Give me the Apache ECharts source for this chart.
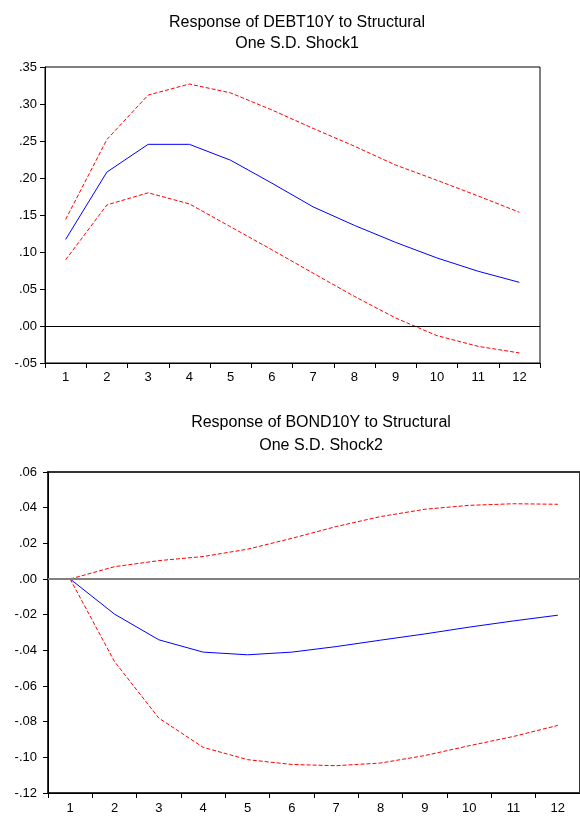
<!DOCTYPE html>
<html>
<head>
<meta charset="utf-8">
<script src="https://cdn.jsdelivr.net/npm/echarts@6/dist/echarts.min.js"></script>
<style>
  html,body{margin:0;padding:0;background:#fff;}
  #chart{width:580px;height:817px;}
</style>
</head>
<body>
<div id="chart"></div>
<script>
// periods on the x axis
const periods = ['1','2','3','4','5','6','7','8','9','10','11','12'];

// Response of DEBT10Y to Shock1
const debtResp  = [0.117, 0.208, 0.2455, 0.2455, 0.224, 0.193, 0.161, 0.136, 0.113, 0.092, 0.074, 0.059];
const debtUpper = [0.144, 0.252, 0.312, 0.327, 0.315, 0.292, 0.267, 0.243, 0.2175, 0.197, 0.1757, 0.1537];
const debtLower = [0.0894, 0.1636, 0.180, 0.165, 0.134, 0.103, 0.0714, 0.040, 0.0108, -0.013, -0.0275, -0.0364];

// Response of BOND10Y to Shock2
const bondResp  = [0, -0.0197, -0.0341, -0.041, -0.0425, -0.041, -0.0379, -0.0343, -0.0308, -0.027, -0.0235, -0.0203];
const bondUpper = [0, 0.0069, 0.0103, 0.0126, 0.0167, 0.0228, 0.0294, 0.035, 0.0391, 0.0413, 0.0422, 0.0419];
const bondLower = [0, -0.0463, -0.078, -0.0944, -0.1013, -0.104, -0.1047, -0.1032, -0.099, -0.0935, -0.0883, -0.0821];

const font = 'Liberation Sans, Arial, sans-serif';
const chart = echarts.init(document.getElementById('chart'));

// ".35" style labels like EViews
function fmt(v){
  return v.toFixed(2).replace(/^(-?)0\./, '$1.');
}

function xAxisCfg(idx, margin){
  return {
    type:'category', gridIndex:idx, data:periods, boundaryGap:true,
    axisLine:{onZero:false, lineStyle:{color:'#000', width:1}},
    axisTick:{show:true, interval:0, length:5, lineStyle:{color:'#000'}},
    axisLabel:{color:'#000', fontSize:13, fontFamily:font, margin:margin, interval:0},
    splitLine:{show:false}
  };
}
function yAxisCfg(idx, min, max, step, margin){
  return {
    type:'value', gridIndex:idx, min:min, max:max, interval:step,
    axisLine:{show:true, onZero:false, lineStyle:{color:'#000', width:1}},
    axisTick:{show:true, length:5, lineStyle:{color:'#000'}},
    axisLabel:{color:'#000', fontSize:13, fontFamily:font, margin:margin, formatter:fmt},
    splitLine:{show:false}
  };
}
function line(idx, data, color, dashed, zeroColor){
  const s = {
    type:'line', xAxisIndex:idx, yAxisIndex:idx, data:data,
    symbol:'none', silent:true, animation:false,
    lineStyle:{color:color, width:1, type: dashed ? [4,2] : 'solid'}
  };
  if(zeroColor){
    s.markLine = {
      silent:true, symbol:'none', animation:false, label:{show:false},
      lineStyle:{color:zeroColor.c, width:zeroColor.w, type:'solid'},
      data:[{yAxis:0}]
    };
  }
  return s;
}

chart.setOption({
  backgroundColor:'#fff',
  animation:false,
  title:[
    {
      text:'Response of DEBT10Y to Structural\nOne S.D. Shock1',
      left:292, top:7, textAlign:'center',
      textStyle:{color:'#000', fontSize:16, fontWeight:'normal', fontFamily:font, lineHeight:21}
    },
    {
      text:'Response of BOND10Y to Structural\nOne S.D. Shock2',
      left:316, top:406, textAlign:'center',
      textStyle:{color:'#000', fontSize:16, fontWeight:'normal', fontFamily:font, lineHeight:23}
    }
  ],
  grid:[
    {left:45, top:67, width:495, height:296, show:true, borderColor:'#000', borderWidth:1},
    {left:48, top:472, width:536, height:321, show:true, borderColor:'#333', borderWidth:2}
  ],
  xAxis:[xAxisCfg(0, 8), xAxisCfg(1, 9)],
  yAxis:[yAxisCfg(0, -0.05, 0.35, 0.05, 8), yAxisCfg(1, -0.12, 0.06, 0.02, 11)],
  series:[
    line(0, debtResp, '#0000ff', false, {c:'#000', w:1}),
    line(0, debtUpper, '#ff0000', true),
    line(0, debtLower, '#ff0000', true),
    line(1, bondResp, '#0000ff', false, {c:'#808080', w:2}),
    line(1, bondUpper, '#ff0000', true),
    line(1, bondLower, '#ff0000', true)
  ]
});
</script>
</body>
</html>
